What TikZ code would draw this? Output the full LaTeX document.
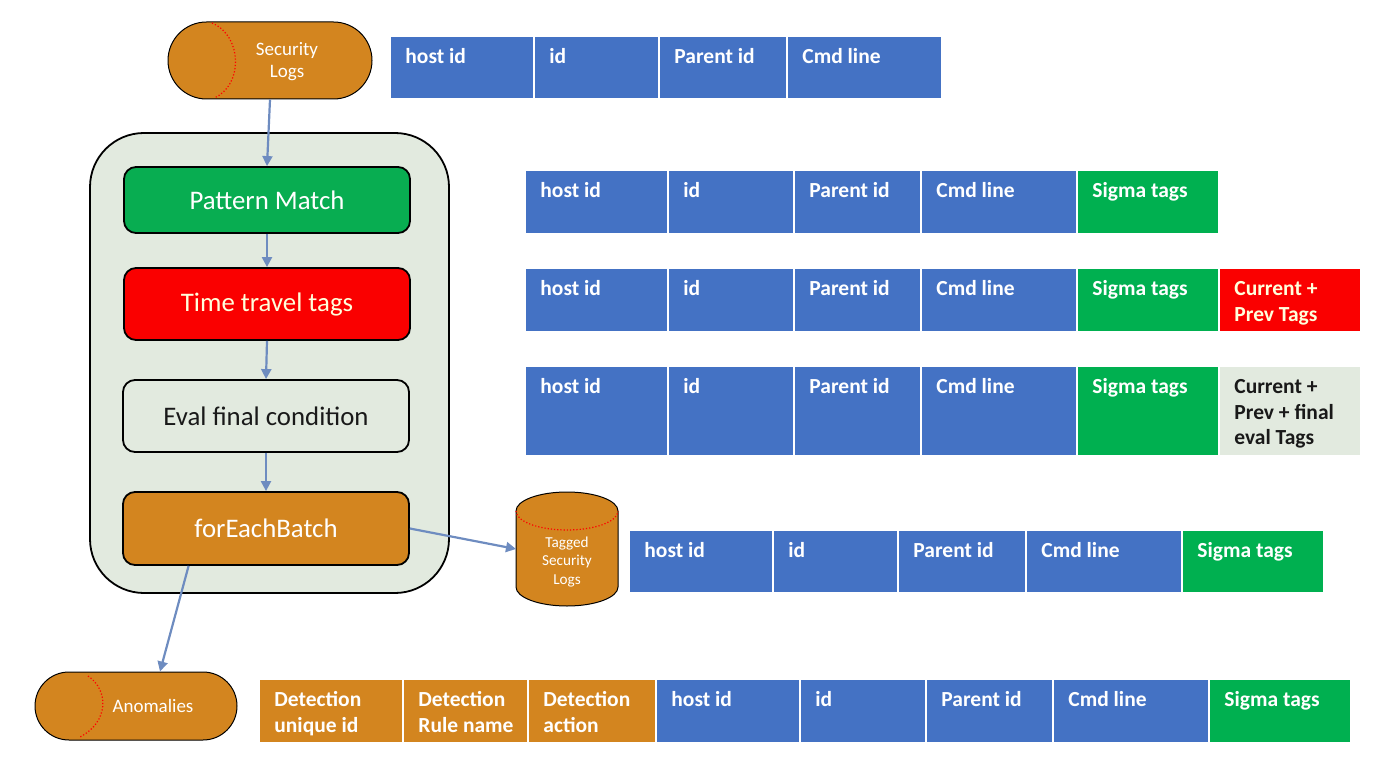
\documentclass[tikz,border=0pt]{standalone}
\usepackage{fontspec}
\setmainfont{Carlito}
\usetikzlibrary{arrows.meta,calc}
\definecolor{blueC}{HTML}{4472C4}
\definecolor{greenC}{HTML}{00B050}
\definecolor{pmgreen}{HTML}{08AD51}
\definecolor{redC}{HTML}{FA0000}
\definecolor{orangeC}{HTML}{D3851F}
\definecolor{paleC}{HTML}{E2EADF}
\definecolor{arrowC}{HTML}{6E8CC0}
\definecolor{creamC}{HTML}{FFFFDC}
\tikzset{
  pill/.style={rectangle, fill=orangeC, draw=black, line width=0.5pt},
  container/.style={rectangle, rounded corners=27pt, fill=paleC, draw=black, line width=0.9pt, minimum width=179.5pt, minimum height=230pt},
  procbox/.style={rectangle, rounded corners=6pt, draw=black, line width=0.9pt, minimum width=143pt, font=\fontsize{13.4}{16}\selectfont},
  flow/.style={draw=arrowC, line width=1.1pt, -{Triangle[length=5pt,width=5pt]}},
  cellbox/.style={rectangle, inner sep=0pt, outer sep=0pt},
  celltext/.style={anchor=base west, inner sep=0pt, font=\bfseries\fontsize{10.75}{12.85}\selectfont},
  redarc/.style={draw=red, densely dotted, line width=0.6pt}
}
\newcommand\tcell[8]{%
  \node[cellbox, fill=#6, minimum width={(#3-#2)*0.5pt}, minimum height={(#5-#4)*0.5pt}] (#1) at ({(#2+#3)/2},{(#4+#5)/2}) {};
  \node[celltext, text=#7] (#1t) at ([shift={(14,26.5)}]#1.north west) {\begin{tabular}[t]{@{}l@{}}#8\end{tabular}};}
\begin{document}
\begin{tikzpicture}[x=0.5pt,y=-0.5pt]
\useasboundingbox (0,0) rectangle (1400,764);
% Security logs pill
\node[pill, minimum width=102pt, minimum height=38.5pt, rounded corners=19.25pt] (seclogs) at (270,60.5) {};
\draw[redarc] (212,23) .. controls (243,36) and (243,86) .. (214,98);
\node[text=white, align=center, font=\fontsize{9.5}{11}\selectfont] (seclogst) at (287,62) {Security\\Logs};
% container
\node[container] (cont) at (269.5,363) {};
% process boxes
\node[procbox, fill=pmgreen, minimum height=33pt, text=white] (pm) at (267,200) {Pattern Match};
\node[procbox, fill=redC, minimum height=36pt, text=creamC] (tt) at (267,304) {Time travel tags};
\node[procbox, fill=paleC, minimum height=36pt, text=black!90] (ev) at (266,416) {Eval final condition};
\node[procbox, fill=orangeC, minimum height=36.5pt, text=white] (feb) at (266,528.5) {forEachBatch};
% tagged security logs cylinder
\filldraw[fill=orangeC, draw=black, line width=0.5pt] (516,511) -- (516,587) arc[start angle=180, end angle=360, x radius=25.5pt, y radius=9.5pt] -- (618,511) arc[start angle=0, end angle=180, x radius=25.5pt, y radius=9.5pt] -- cycle;
\draw[redarc] (516,511) arc[start angle=180, end angle=360, x radius=25.5pt, y radius=9.5pt];
\node[cellbox, minimum width=51pt, minimum height=57pt] (tagged) at (567,549) {};
\node[text=white, align=center, font=\fontsize{7.6}{9.3}\selectfont] (taggedt) at (567,562) {Tagged\\Security\\Logs};
% anomalies pill
\node[pill, minimum width=101pt, minimum height=34pt, rounded corners=17pt] (anom) at (136,706) {};
\draw[redarc] (88,676) .. controls (109,690) and (109,722) .. (80,737);
\node[text=white, font=\fontsize{9.5}{11}\selectfont] (anomt) at (153,706) {Anomalies};
% connectors
\draw[flow] (seclogs.south) -- (pm.north);
\draw[flow] (pm.south) -- (tt.north);
\draw[flow] (tt.south) -- (ev.north);
\draw[flow] (ev.south) -- (feb.north);
\draw[flow] (feb.east) -- (tagged.west);
\draw[flow] ($(feb.south west)+(66.5,0)$) -- ($(anom.north)+(24,0)$);
% row 1
\tcell{a1}{391}{533}{37}{98}{blueC}{white}{host id}
\tcell{a2}{535}{658}{37}{98}{blueC}{white}{id}
\tcell{a3}{660}{786}{37}{98}{blueC}{white}{Parent id}
\tcell{a4}{788}{941}{37}{98}{blueC}{white}{Cmd line}
% row 2
\tcell{b1}{526}{667}{171}{233}{blueC}{white}{host id}
\tcell{b2}{669}{793}{171}{233}{blueC}{white}{id}
\tcell{b3}{795}{920}{171}{233}{blueC}{white}{Parent id}
\tcell{b4}{922}{1076}{171}{233}{blueC}{white}{Cmd line}
\tcell{b5}{1078}{1218}{171}{233}{greenC}{white}{Sigma tags}
% row 3
\tcell{c1}{526}{667}{269}{331}{blueC}{white}{host id}
\tcell{c2}{669}{793}{269}{331}{blueC}{white}{id}
\tcell{c3}{795}{920}{269}{331}{blueC}{white}{Parent id}
\tcell{c4}{922}{1076}{269}{331}{blueC}{white}{Cmd line}
\tcell{c5}{1078}{1218}{269}{331}{greenC}{white}{Sigma tags}
\tcell{c6}{1220}{1360}{269}{331}{redC}{creamC}{Current +\\Prev Tags}
% row 4
\tcell{d1}{526}{667}{367}{455}{blueC}{white}{host id}
\tcell{d2}{669}{793}{367}{455}{blueC}{white}{id}
\tcell{d3}{795}{920}{367}{455}{blueC}{white}{Parent id}
\tcell{d4}{922}{1076}{367}{455}{blueC}{white}{Cmd line}
\tcell{d5}{1078}{1218}{367}{455}{greenC}{white}{Sigma tags}
\tcell{d6}{1220}{1360}{367}{455}{paleC}{black!90}{Current +\\Prev + final\\eval Tags}
% row 5
\tcell{e1}{630}{772}{531}{592}{blueC}{white}{host id}
\tcell{e2}{774}{897}{531}{592}{blueC}{white}{id}
\tcell{e3}{899}{1025}{531}{592}{blueC}{white}{Parent id}
\tcell{e4}{1027}{1181}{531}{592}{blueC}{white}{Cmd line}
\tcell{e5}{1183}{1323}{531}{592}{greenC}{white}{Sigma tags}
% row 6
\tcell{f1}{260}{402}{680}{742}{orangeC}{white}{Detection\\unique id}
\tcell{f2}{404}{527}{680}{742}{orangeC}{white}{Detection\\Rule name}
\tcell{f3}{529}{655}{680}{742}{orangeC}{white}{Detection\\action}
\tcell{f4}{657}{799}{680}{742}{blueC}{white}{host id}
\tcell{f5}{801}{925}{680}{742}{blueC}{white}{id}
\tcell{f6}{927}{1052}{680}{742}{blueC}{white}{Parent id}
\tcell{f7}{1054}{1208}{680}{742}{blueC}{white}{Cmd line}
\tcell{f8}{1210}{1350}{680}{742}{greenC}{white}{Sigma tags}
\end{tikzpicture}
\end{document}
